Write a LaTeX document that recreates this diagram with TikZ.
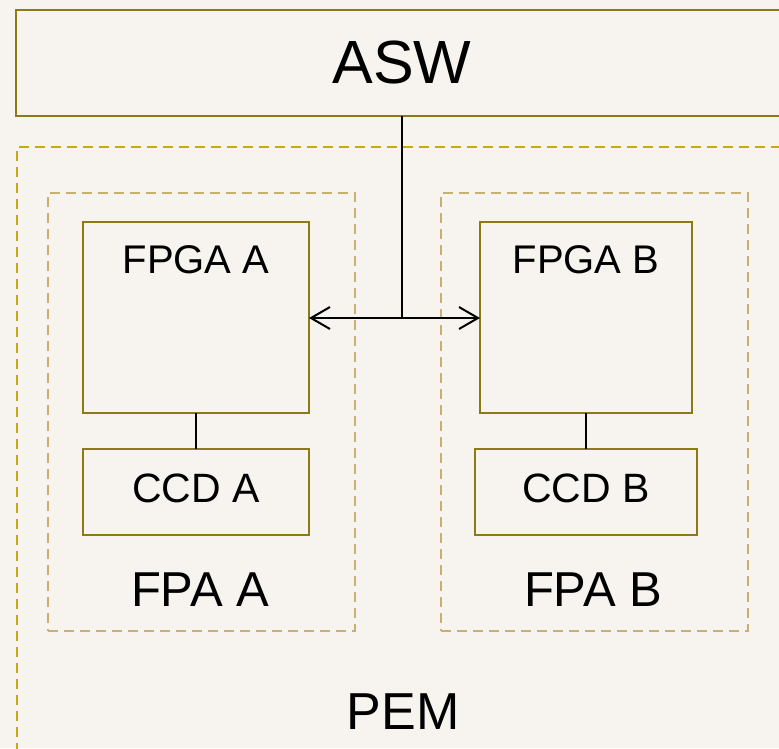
\documentclass[tikz,border=0pt]{standalone}
\usepackage{fontspec}
\setmainfont{Liberation Sans}
\usetikzlibrary{arrows.meta}
\definecolor{bgc}{RGB}{247,244,240}
\definecolor{boxc}{RGB}{140,122,20}
\definecolor{pemc}{RGB}{200,168,20}
\definecolor{fpac}{RGB}{200,176,112}
\begin{document}
\begin{tikzpicture}[x=1pt,y=-1pt,
  solidbox/.style={draw=boxc,line width=2.2pt,rectangle,inner sep=0pt,outer sep=0pt},
  pembox/.style={draw=pemc,line width=1.8pt,dash pattern=on 10pt off 6pt,rectangle,inner sep=0pt},
  fpabox/.style={draw=fpac,line width=1.8pt,dash pattern=on 10pt off 6pt,rectangle,inner sep=0pt},
  conn/.style={draw=black,line width=2pt},
  arr/.style={conn,-{Straight Barb[length=19pt,width=22pt,line width=2pt]}},
  lbl/.style={inner sep=0pt,text=black}]
\useasboundingbox (0,0) rectangle (779,748);
\clip (0,0) rectangle (779,748);
\fill[bgc] (0,0) rectangle (779,748);
% ASW
\node[solidbox,minimum width=784pt,minimum height=106pt,anchor=north west] (asw) at (16,10) {};
\node[lbl,font=\fontsize{61}{61}\selectfont] (aswt) at (402,62) {ASW};
% PEM
\node[pembox,minimum width=784pt,minimum height=620pt,anchor=north west] (pem) at (16,146) {};
\node[lbl,font=\fontsize{52}{52}\selectfont] (pemt) at (403,712) {PEM};
% FPA A / B
\node[fpabox,minimum width=307pt,minimum height=438pt,anchor=north west] (fpaA) at (47,192) {};
\node[fpabox,minimum width=307pt,minimum height=438pt,anchor=north west] (fpaB) at (440,192) {};
\node[lbl,font=\fontsize{49}{49}\selectfont] (fpaAt) at (200,590) {FPA A};
\node[lbl,font=\fontsize{49}{49}\selectfont] (fpaBt) at (593,590) {FPA B};
% FPGA
\node[solidbox,minimum width=226pt,minimum height=191pt,anchor=north west] (fpgaA) at (83,222) {};
\node[solidbox,minimum width=212pt,minimum height=191pt,anchor=north west] (fpgaB) at (480,222) {};
\node[lbl,font=\fontsize{40}{40}\selectfont] (fpgaAt) at (196,260) {FPGA A};
\node[lbl,font=\fontsize{40}{40}\selectfont] (fpgaBt) at (586,260) {FPGA B};
% CCD
\node[solidbox,minimum width=226pt,minimum height=86pt,anchor=north west] (ccdA) at (83,449) {};
\node[solidbox,minimum width=222pt,minimum height=86pt,anchor=north west] (ccdB) at (475,449) {};
\node[lbl,font=\fontsize{41}{41}\selectfont] (ccdAt) at (196,488) {CCD A};
\node[lbl,font=\fontsize{41}{41}\selectfont] (ccdBt) at (586,488) {CCD B};
% connectors
\coordinate (j) at (402,318);
\draw[conn] (asw.south -| j) -- (j);
\draw[arr] (j) -- (fpgaA.east |- j);
\draw[arr] (j) -- (fpgaB.west |- j);
\draw[conn] (fpgaA.south) -- (ccdA.north);
\draw[conn] (fpgaB.south) -- (ccdB.north);
\end{tikzpicture}
\end{document}
